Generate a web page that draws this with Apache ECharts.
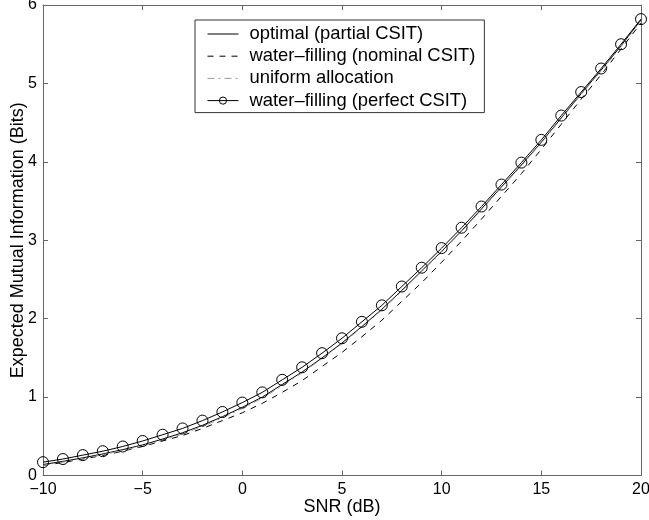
<!DOCTYPE html>
<html lang="en">

<head>
    <meta charset="UTF-8">
    <title>Expected Mutual Information</title>
    <script src="https://cdn.jsdelivr.net/npm/echarts@6/dist/echarts.min.js"></script>
    <style>
        body { margin: 0; background: #fff; }
    </style>
</head>

<body>
    <div id="main" style="width: 649px;height:520px;"></div>

    <script>
        // SNR in dB (x axis)
        let snr = [-10, -9, -8, -7, -6, -5, -4, -3, -2, -1, 0, 1, 2, 3, 4, 5, 6, 7, 8, 9, 10,
            11, 12, 13, 14, 15, 16, 17, 18, 19, 20];

        // expected mutual information (bits) for each scheme
        let optimal = [0.14, 0.18, 0.225, 0.275, 0.33, 0.39, 0.465, 0.545, 0.64, 0.75, 0.87,
            1.00, 1.16, 1.32, 1.50, 1.69, 1.90, 2.12, 2.36, 2.61, 2.86,
            3.12, 3.40, 3.68, 3.96, 4.25, 4.56, 4.87, 5.17, 5.48, 5.81];
        let nominal = [0.13, 0.165, 0.21, 0.255, 0.31, 0.37, 0.44, 0.51, 0.60, 0.70, 0.80,
            0.92, 1.06, 1.21, 1.39, 1.57, 1.77, 1.98, 2.22, 2.46, 2.72,
            2.99, 3.27, 3.56, 3.85, 4.16, 4.48, 4.80, 5.11, 5.44, 5.77];
        let uniform = [0.13, 0.17, 0.215, 0.265, 0.32, 0.375, 0.45, 0.53, 0.625, 0.735, 0.855,
            0.985, 1.145, 1.31, 1.49, 1.68, 1.89, 2.11, 2.35, 2.60, 2.85,
            3.11, 3.39, 3.67, 3.95, 4.24, 4.55, 4.86, 5.16, 5.47, 5.80];
        let perfect = [0.17, 0.21, 0.26, 0.31, 0.37, 0.44, 0.52, 0.60, 0.70, 0.81, 0.93,
            1.06, 1.22, 1.38, 1.56, 1.75, 1.96, 2.17, 2.41, 2.65, 2.90,
            3.16, 3.43, 3.71, 3.99, 4.28, 4.59, 4.89, 5.19, 5.50, 5.82];

        let names = ['optimal (partial CSIT)', 'water–filling (nominal CSIT)',
            'uniform allocation', 'water–filling (perfect CSIT)'];

        function pairs(ys) {
            return snr.map(function (x, i) { return [x, ys[i]]; });
        }

        let font = 'Liberation Sans, Arial, sans-serif';
        let boxColor = '#666';
        let minus = function (v) { return String(v).replace('-', '\u2212'); };

        let myChart = echarts.init(document.getElementById('main'));

        let option = {
            animation: false,
            grid: { left: 43, right: 8, top: 5, bottom: 44.5, containLabel: false, outerBoundsMode: 'none' },
            legend: {
                orient: 'vertical',
                left: 195,
                top: 20,
                padding: [5, 9, 3, 12],
                itemGap: 4.2,
                itemWidth: 31,
                itemHeight: 9,
                borderColor: '#333',
                borderWidth: 1,
                backgroundColor: '#fff',
                lineStyle: { width: 1 },
                itemStyle: { borderWidth: 1 },
                data: names,
                textStyle: {
                    fontFamily: font, fontSize: 18.4, color: '#000',
                    lineHeight: 18, padding: [0, 0, 0, 6]
                }
            },
            xAxis: [{
                type: 'value',
                min: -10, max: 20, interval: 5,
                name: 'SNR (dB)',
                nameLocation: 'middle',
                nameGap: 23,
                nameMoveOverlap: false,
                nameTextStyle: { fontFamily: font, fontSize: 18, color: '#000' },
                axisLine: { onZero: false, lineStyle: { color: boxColor } },
                axisTick: { inside: true, length: 5, lineStyle: { color: boxColor } },
                axisLabel: { fontFamily: font, fontSize: 16, color: '#000', margin: 6, formatter: minus },
                splitLine: { show: false }
            }, {
                type: 'value', position: 'top',
                min: -10, max: 20, interval: 5,
                axisLine: { onZero: false, lineStyle: { color: boxColor } },
                axisTick: { inside: true, length: 5, lineStyle: { color: boxColor } },
                axisLabel: { show: false },
                splitLine: { show: false }
            }],
            yAxis: [{
                type: 'value',
                min: 0, max: 6, interval: 1,
                name: 'Expected Mutual Information (Bits)',
                nameLocation: 'middle',
                nameGap: 16,
                nameMoveOverlap: false,
                nameTextStyle: { fontFamily: font, fontSize: 18, color: '#000' },
                axisLine: { show: true, onZero: false, lineStyle: { color: boxColor } },
                axisTick: { show: true, inside: true, length: 5, lineStyle: { color: boxColor } },
                axisLabel: { fontFamily: font, fontSize: 16, color: '#000', margin: 6 },
                splitLine: { show: false }
            }, {
                type: 'value', position: 'right',
                min: 0, max: 6, interval: 1,
                axisLine: { show: true, onZero: false, lineStyle: { color: boxColor } },
                axisTick: { show: true, inside: true, length: 5, lineStyle: { color: boxColor } },
                axisLabel: { show: false },
                splitLine: { show: false }
            }],
            series: [{
                name: names[0],
                type: 'line',
                symbol: 'none',
                lineStyle: { color: '#000', width: 1 },
                itemStyle: { color: '#000', opacity: 0 },
                data: pairs(optimal)
            }, {
                name: names[1],
                type: 'line',
                symbol: 'none',
                lineStyle: { color: '#000', width: 1, type: [6, 6] },
                itemStyle: { color: '#000', opacity: 0 },
                data: pairs(nominal)
            }, {
                name: names[2],
                type: 'line',
                symbol: 'none',
                lineStyle: { color: '#999', width: 1, type: [7, 4, 2, 4] },
                itemStyle: { color: '#999', opacity: 0 },
                data: pairs(uniform)
            }, {
                name: names[3],
                type: 'line',
                symbol: 'circle',
                symbolSize: 11,
                lineStyle: { color: '#000', width: 1 },
                itemStyle: { color: 'rgba(255,255,255,0)', borderColor: '#000', borderWidth: 1 },
                data: pairs(perfect)
            }]
        };

        myChart.setOption(option);
    </script>
</body>

</html>
